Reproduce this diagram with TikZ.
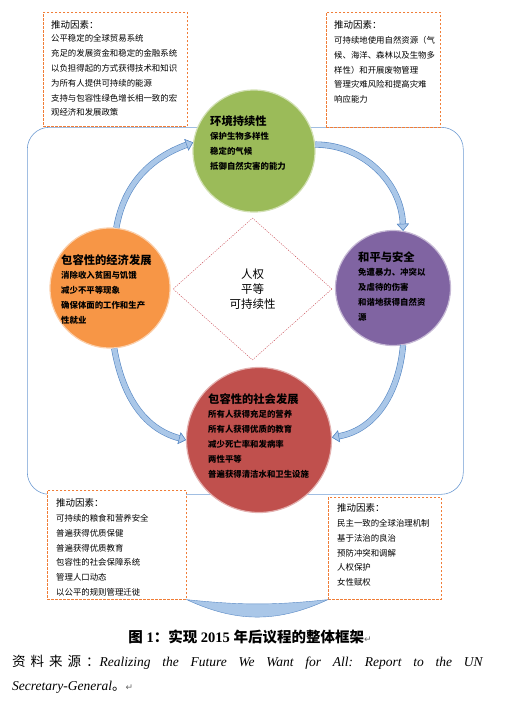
\documentclass[tikz,border=0pt]{standalone}
\usepackage{fontspec}
\setmainfont{Liberation Serif}
\newfontfamily\cjk{Noto Sans CJK SC}
\newfontfamily\pmarkfont{DejaVu Sans}
\usetikzlibrary{arrows.meta,calc,positioning,shapes.geometric}
\definecolor{envgreen}{RGB}{155,187,89}
\definecolor{ecoorange}{RGB}{247,150,70}
\definecolor{peacepurple}{RGB}{128,100,162}
\definecolor{socred}{RGB}{192,80,77}
\definecolor{bandfill}{RGB}{170,199,232}
\definecolor{bandline}{RGB}{88,136,196}
\definecolor{frameblue}{RGB}{110,155,210}
\definecolor{dashorange}{RGB}{240,125,55}
\definecolor{dotred}{RGB}{200,70,80}
\frenchspacing

\begin{document}
\begin{tikzpicture}[x=1pt, y=-1pt,
    driver/.style={draw=dashorange, dash pattern=on 2.5pt off 1.5pt, semithick,
                   fill=white, anchor=north west, inner sep=0pt},
    drvtext/.style={font=\cjk\fontsize{8.4}{14.8}\selectfont, align=left,
                    anchor=north west, inner sep=0pt},
    goal/.style={circle, inner sep=0pt, draw=white!55!#1, line width=1.2pt, fill=#1},
    goaltext/.style={font=\cjk\bfseries\fontsize{8.4}{15}\selectfont, align=left,
                     anchor=north west, inner sep=0pt},
    band/.style={line width=5pt, bandfill, preaction={draw=bandline, line width=6.2pt},
                 -{Triangle[length=7pt, width=12pt, fill=bandfill, color=bandline, line width=0.5pt]}},
    frame/.style={draw=frameblue, semithick, rounded corners=22pt}
]
\useasboundingbox (0,0) rectangle (506,705);
\node[frame, minimum width=436pt, minimum height=367pt, anchor=north west] (frm) at (27,127) {};

\node[driver, minimum width=144pt, minimum height=114pt] (drvtl) at (43,12) {};
\node[drvtext] (txttl) at ($(drvtl.north west)+(8,8)$)
    {{\fontsize{9.5}{14}\selectfont 推动因素：}\\[-1pt]公平稳定的全球贸易系统\\充足的发展资金和稳定的金融系统\\
     以负担得起的方式获得技术和知识\\为所有人提供可持续的能源\\支持与包容性绿色增长相一致的宏\\观经济和发展政策};
\node[driver, minimum width=114pt, minimum height=115pt] (drvtr) at (326,12) {};
\node[drvtext] (txttr) at ($(drvtr.north west)+(8,8.5)$)
    {{\fontsize{9.5}{14}\selectfont 推动因素：}\\可持续地使用自然资源（气\\候、海洋、森林以及生物多\\
     样性）和开展废物管理\\管理灾难风险和提高灾难\\响应能力};
\node[driver, minimum width=139pt, minimum height=109pt] (drvbl) at (47,490) {};
\node[drvtext] (txtbl) at ($(drvbl.north west)+(9,8.5)$)
    {{\fontsize{9.5}{14}\selectfont 推动因素：}\\可持续的粮食和营养安全\\普遍获得优质保健\\普遍获得优质教育\\
     包容性的社会保障系统\\管理人口动态\\以公平的规则管理迁徙};
\node[driver, minimum width=113pt, minimum height=102pt] (drvbr) at (328,497) {};
\node[drvtext] (txtbr) at ($(drvbr.north west)+(9,6.5)$)
    {{\fontsize{9.5}{14}\selectfont 推动因素：}\\民主一致的全球治理机制\\基于法治的良治\\预防冲突和调解\\人权保护\\女性赋权};

\node[goal=envgreen, minimum size=122pt] (env) at (254,151) {};
\node[goal=ecoorange, minimum size=120pt] (eco) at (110,288) {};
\node[goal=peacepurple, minimum size=115pt] (peace) at (393,288) {};
\node[goal=socred, minimum size=145pt] (soc) at (259,440) {};

\node[goaltext] (envtxt) at (210,115.5)
    {{\fontsize{11.3}{15}\selectfont 环境持续性}\\[-1pt]保护生物多样性\\稳定的气候\\抵御自然灾害的能力};
\node[goaltext] (ecotxt) at (61,254.5)
    {{\fontsize{11.3}{15}\selectfont 包容性的经济发展}\\[-1pt]消除收入贫困与饥饿\\减少不平等现象\\确保体面的工作和生产\\性就业};
\node[goaltext] (peacetxt) at (358,251.5)
    {{\fontsize{11.3}{15}\selectfont 和平与安全}\\[-1pt]免遭暴力、冲突以\\及虐待的伤害\\和谐地获得自然资\\源};
\node[goaltext] (soctxt) at (208,393.5)
    {{\fontsize{11.3}{15}\selectfont 包容性的社会发展}\\[-1pt]所有人获得充足的营养\\所有人获得优质的教育\\减少死亡率和发病率\\两性平等\\普遍获得清洁水和卫生设施};

\node[diamond, draw=dotred, dash pattern=on 1.2pt off 1.2pt, minimum width=159pt,
      minimum height=142pt, inner sep=0pt, align=center,
      font=\cjk\fontsize{11.5}{15}\selectfont] (core) at (252.5,289) {人权\\平等\\可持续性};

\draw[band] (eco.84) to[out=80, in=-160] (env.172);
\draw[band] (env.6) to[out=0, in=92] (peace.80);
\draw[band] (eco.-86) to[out=-80, in=165] (soc.180);
\draw[band] (peace.-80) to[out=-95, in=10] (soc.2);
\draw[draw=bandline, fill=bandfill, thin] (drvbl.south east) to[bend right=6] (drvbr.south west)
    to[bend left=25] (drvbl.south east) -- cycle;

\node[font=\bfseries\fontsize{14.5}{17}\selectfont] (cap) at (250,636.5)
    {{\cjk 图} 1{\cjk ：实现} 2015 {\cjk 年后议程的整体框架}{\pmarkfont\mdseries\fontsize{9}{9}\selectfont\color{black!60}↵}};
\node[font=\fontsize{13.5}{23.5}\selectfont, text width=471pt, align=justify, anchor=north west,
      inner sep=0pt] (src) at (12,655)
    {{\cjk 资\hspace{5pt}料\hspace{5pt}来\hspace{5pt}源\hspace{5pt}：}\textit{Realizing the Future We Want for All: Report to the UN}\linebreak
     \textit{Secretary-General}{\cjk 。}{\pmarkfont\fontsize{9}{9}\selectfont\color{black!60}↵}};
\end{tikzpicture}
\end{document}
